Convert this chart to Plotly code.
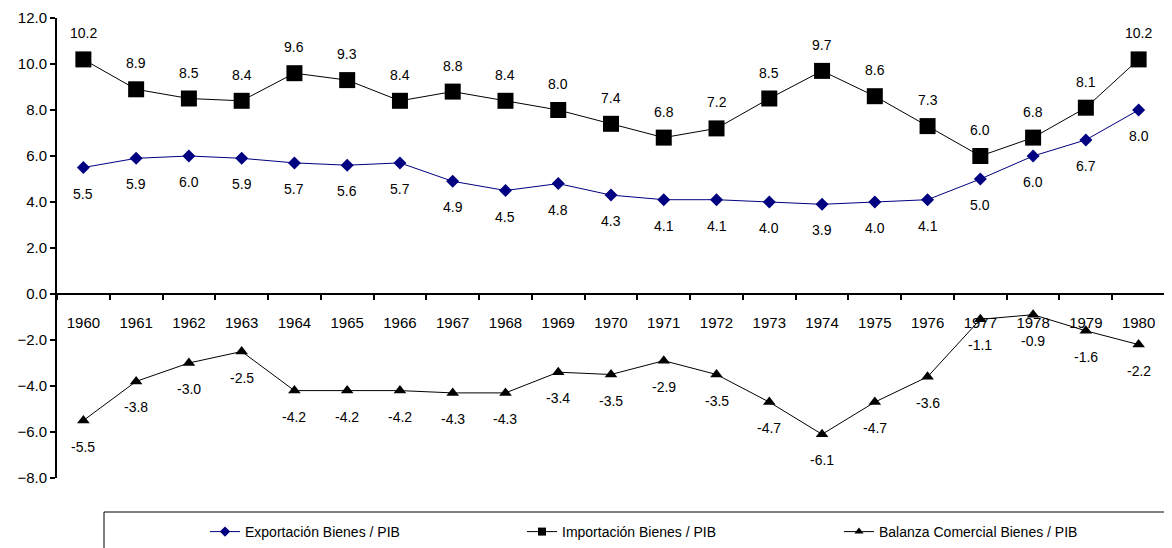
import plotly.graph_objects as go

years = list(range(1960, 1981))
exportacion = [5.5, 5.9, 6.0, 5.9, 5.7, 5.6, 5.7, 4.9, 4.5, 4.8, 4.3, 4.1, 4.1, 4.0, 3.9, 4.0, 4.1, 5.0, 6.0, 6.7, 8.0]
importacion = [10.2, 8.9, 8.5, 8.4, 9.6, 9.3, 8.4, 8.8, 8.4, 8.0, 7.4, 6.8, 7.2, 8.5, 9.7, 8.6, 7.3, 6.0, 6.8, 8.1, 10.2]
balanza = [-5.5, -3.8, -3.0, -2.5, -4.2, -4.2, -4.2, -4.3, -4.3, -3.4, -3.5, -2.9, -3.5, -4.7, -6.1, -4.7, -3.6, -1.1, -0.9, -1.6, -2.2]
series_names = ["Exportación Bienes / PIB", "Importación Bienes / PIB", "Balanza Comercial Bienes / PIB"]

FONT = "Liberation Sans, Arial, sans-serif"

# page body has an 8px margin; figure sized to fit the 1172x548 window
W, H = 1164, 540
L, R, T, B = 49, 7, 10, 70
PW, PH = W - L - R, H - T - B
OFF = 8  # body margin


def px_x(page_x):
    return (page_x - OFF - L) / PW


def px_y(page_y):
    return (H - B - (page_y - OFF)) / PH


styles = [
    dict(color="#000080", symbol="diamond", size=10, lsize=8),
    dict(color="black", symbol="square", size=16, lsize=8),
    dict(color="black", symbol="triangle-up", size=11, lsize=8),
]

fig = go.Figure()
for name, vals, st in zip(series_names, (exportacion, importacion, balanza), styles):
    fig.add_trace(go.Scatter(x=years, y=vals, name=name, mode="lines+markers", showlegend=False,
                             line=dict(color=st["color"], width=1),
                             marker=dict(symbol=st["symbol"], size=st["size"], color=st["color"])))
    # legend entry with smaller marker
    fig.add_trace(go.Scatter(x=[None], y=[None], name=name, mode="lines+markers",
                             line=dict(color=st["color"], width=1),
                             marker=dict(symbol=st["symbol"], size=st["lsize"], color=st["color"])))

annotations = []
for vals, shift in ((exportacion, -26), (importacion, 26), (balanza, -26)):
    for x, v in zip(years, vals):
        annotations.append(dict(x=x, y=v, text=f"{v:.1f}", showarrow=False,
                                yshift=shift, yanchor="middle", xanchor="center",
                                font=dict(family=FONT, size=14, color="black")))

fig.update_layout(
    width=W, height=H,
    margin=dict(l=L, r=R, t=T, b=B, autoexpand=False),
    paper_bgcolor="white", plot_bgcolor="white",
    font=dict(family=FONT, size=14, color="black"),
    showlegend=True,
    legend=dict(orientation="h", x=px_x(205), xanchor="left",
                y=px_y(516), yanchor="top",
                entrywidth=272, entrywidthmode="pixels",
                font=dict(family="Liberation Sans Narrow, Liberation Sans, Arial", size=14),
                bgcolor="rgba(0,0,0,0)"),
    annotations=annotations,
    shapes=[dict(type="rect", xref="paper", yref="paper",
                 x0=px_x(104), x1=px_x(1185),
                 y0=px_y(512), y1=px_y(570),
                 line=dict(color="black", width=1), fillcolor="rgba(0,0,0,0)", layer="below")],
)

fig.update_yaxes(range=[-8, 12], dtick=2, tick0=-8, tickformat=".1f",
                 showgrid=False, zeroline=False, showline=True, linecolor="black", linewidth=2,
                 ticks="outside", ticklen=5, tickwidth=2, tickcolor="black",
                 tickfont=dict(family=FONT, size=15, color="black"))
fig.update_xaxes(range=[years[0] - 0.5, years[-1] + 0.5],
                 tickvals=years, ticktext=[str(y) for y in years],
                 anchor="free", position=0.4,
                 showgrid=False, zeroline=False, showline=True, linecolor="black", linewidth=2,
                 ticks="outside", ticklen=0, tickcolor="black",
                 minor=dict(tickvals=[y - 0.5 for y in years] + [years[-1] + 0.5],
                            ticks="outside", ticklen=5, tickwidth=2, tickcolor="black", showgrid=False),
                 ticklabelstandoff=15,
                 tickfont=dict(family=FONT, size=15, color="black"))

fig.write_html("out.html")
